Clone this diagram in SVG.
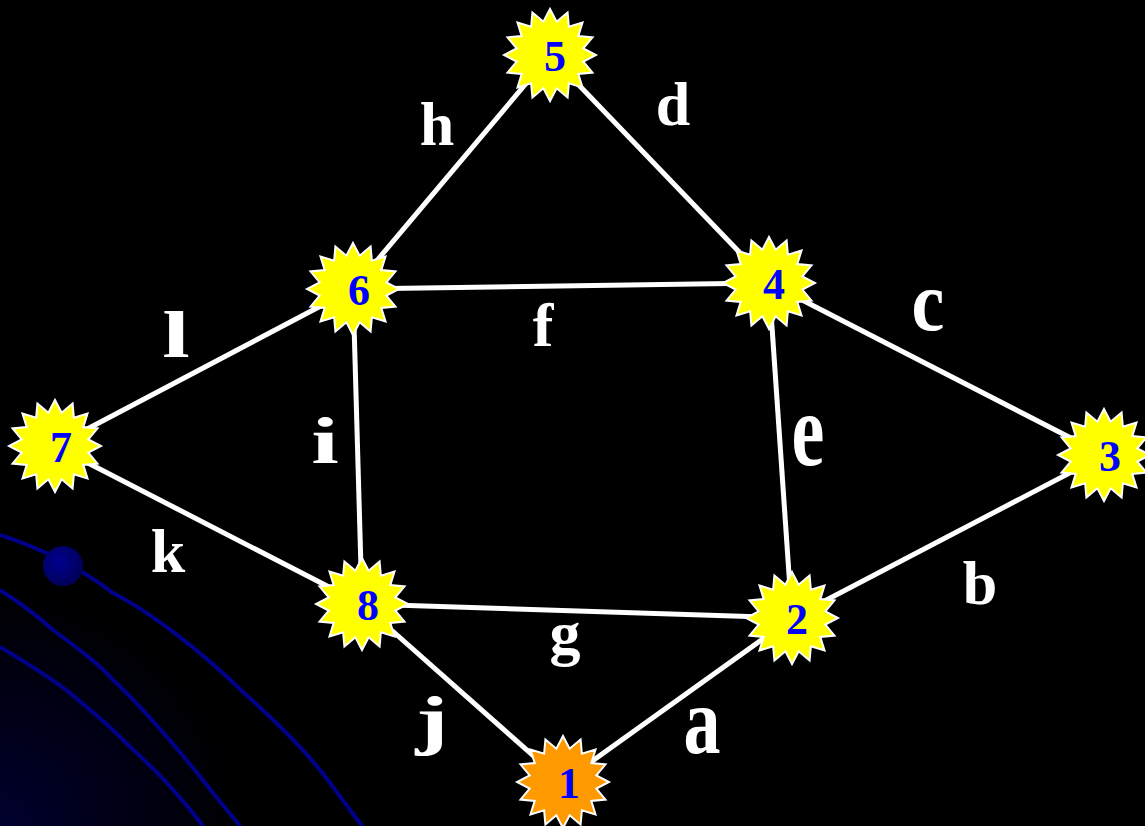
<svg xmlns="http://www.w3.org/2000/svg" xmlns:xlink="http://www.w3.org/1999/xlink" width="1145" height="826" viewBox="0 0 1145 826">
<style>
.edge{stroke:#ffffff;stroke-width:5;fill:none}
.deco{stroke:#00008b;stroke-width:4;fill:none}
.star{stroke:#ffffff;stroke-width:2;stroke-linejoin:miter}
.y{fill:#ffff00}
.o{fill:#ff9900}
.num{font-family:"Liberation Serif","Times New Roman",serif;font-weight:bold;font-size:44px;fill:#0000ff;text-anchor:middle}
.lb{font-family:"Liberation Serif","Times New Roman",serif;font-weight:bold;font-size:62px;fill:#ffffff;text-anchor:middle}
.lr{font-family:"Liberation Serif","Times New Roman",serif;font-weight:bold;font-size:74px;fill:#ffffff;text-anchor:middle}
</style>
<defs>
<radialGradient id="bg" cx="0" cy="826" r="240" gradientUnits="userSpaceOnUse">
<stop offset="0" stop-color="#00002e"/>
<stop offset="1" stop-color="#000000"/>
</radialGradient>
<radialGradient id="ball" cx="0.4" cy="0.4" r="0.7">
<stop offset="0" stop-color="#000090"/>
<stop offset="1" stop-color="#000050"/>
</radialGradient>
<polygon id="star" points="0,-46 6.63,-33.35 17.6,-42.5 18.89,-28.27 32.53,-32.53 28.27,-18.89 42.5,-17.6 33.35,-6.63 46,0 33.35,6.63 42.5,17.6 28.27,18.89 32.53,32.53 18.89,28.27 17.6,42.5 6.63,33.35 0,46 -6.63,33.35 -17.6,42.5 -18.89,28.27 -32.53,32.53 -28.27,18.89 -42.5,17.6 -33.35,6.63 -46,0 -33.35,-6.63 -42.5,-17.6 -28.27,-18.89 -32.53,-32.53 -18.89,-28.27 -17.6,-42.5 -6.63,-33.35"/>
</defs>
<rect x="0" y="0" width="1145" height="826" fill="#000000"/>
<rect x="0" y="560" width="260" height="266" fill="url(#bg)"/>
<g id="decoration">
<path class="deco" d="M0,535 C40,548 80,568 113,593 C150,612 200,650 243,692 C280,725 310,755 330,783 L362,826"/>
<path class="deco" d="M0,590 C20,603 40,618 53,630 C80,650 100,665 113,680 C135,700 150,718 167,737 C185,758 200,776 213,793 L240,826"/>
<path class="deco" d="M0,647 C25,662 50,677 70,693 C90,710 108,724 123,740 C140,756 155,770 167,783 C180,798 193,812 203,826"/>
<circle cx="63" cy="566" r="20" fill="url(#ball)"/>
</g>
<g id="connectors">
<line class="edge" x1="550" y1="55" x2="353" y2="289"/>
<line class="edge" x1="550" y1="55" x2="769" y2="283"/>
<line class="edge" x1="353" y1="289" x2="769" y2="283"/>
<line class="edge" x1="769" y1="283" x2="1104" y2="455"/>
<line class="edge" x1="769" y1="283" x2="792" y2="618"/>
<line class="edge" x1="353" y1="289" x2="55" y2="446"/>
<line class="edge" x1="353" y1="289" x2="362" y2="604"/>
<line class="edge" x1="55" y1="446" x2="362" y2="604"/>
<line class="edge" x1="362" y1="604" x2="792" y2="618"/>
<line class="edge" x1="1104" y1="455" x2="792" y2="618"/>
<line class="edge" x1="362" y1="604" x2="563" y2="782"/>
<line class="edge" x1="792" y1="618" x2="563" y2="782"/>
</g>
<g id="edge-labels">
<text class="lb" x="437" y="145">h</text>
<text class="lb" x="673" y="125">d</text>
<text class="lb" x="543" y="346">f</text>
<text class="lr" transform="translate(928,330) scale(1,1.15)" x="0" y="0">c</text>
<text class="lb" transform="translate(176,357) scale(1.6,1.05)" x="0" y="0">l</text>
<text class="lr" transform="translate(808,465) scale(1,1.4)" x="0" y="0">e</text>
<text class="lb" transform="translate(325,463) scale(1.6,1.05)" x="0" y="0">i</text>
<text class="lb" x="168" y="572">k</text>
<text class="lb" x="980" y="604">b</text>
<text class="lb" x="565" y="654">g</text>
<text class="lb" transform="translate(432,742) scale(1.6,1.05)" x="0" y="0">j</text>
<text class="lr" transform="translate(702,753) scale(1,1.3)" x="0" y="0">a</text>
</g>
<g id="node-5"><use xlink:href="#star" x="550" y="55" class="star y"/><text class="num" x="555" y="71">5</text></g>
<g id="node-6"><use xlink:href="#star" x="353" y="289" class="star y"/><text class="num" x="359" y="305">6</text></g>
<g id="node-4"><use xlink:href="#star" x="769" y="283" class="star y"/><text class="num" x="774" y="299">4</text></g>
<g id="node-7"><use xlink:href="#star" x="55" y="446" class="star y"/><text class="num" x="61" y="462">7</text></g>
<g id="node-3"><use xlink:href="#star" x="1104" y="455" class="star y"/><text class="num" x="1110" y="471">3</text></g>
<g id="node-8"><use xlink:href="#star" x="362" y="604" class="star y"/><text class="num" x="368" y="620">8</text></g>
<g id="node-2"><use xlink:href="#star" x="792" y="618" class="star y"/><text class="num" x="797" y="634">2</text></g>
<g id="node-1"><use xlink:href="#star" x="563" y="782" class="star o"/><text class="num" x="569" y="798">1</text></g>
</svg>
